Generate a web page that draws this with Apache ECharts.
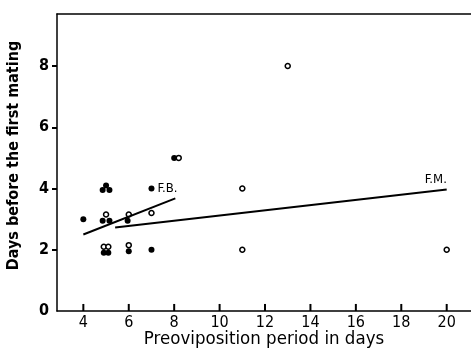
<!DOCTYPE html>
<html><head><meta charset="utf-8">
<script src="https://cdn.jsdelivr.net/npm/echarts@6/dist/echarts.min.js"></script>
<style>html,body{margin:0;padding:0;background:#fff}#c{width:471px;height:356px}</style>
</head><body><div id="c"></div>
<script>
// Filled dots (F.B.)
const fbX = [4, 4.85, 5, 5.15, 4.85, 5.15, 4.9, 5.1, 6, 5.95, 7, 7, 8];
const fbY = [3, 3.95, 4.1, 3.95, 2.95, 2.95, 1.9, 1.9, 1.95, 2.95, 4, 2, 5];
// Open circles (F.M.)
const fmX = [5, 4.9, 5.1, 6, 6, 7, 8.2, 11, 11, 13, 20];
const fmY = [3.15, 2.1, 2.1, 2.15, 3.15, 3.2, 5, 4, 2, 8, 2];
// Regression lines
const fbLineX = [4, 8.05];
const fbLineY = [2.5, 3.68];
const fmLineX = [5.4, 20];
const fmLineY = [2.73, 3.97];
const xTicks = [4, 6, 8, 10, 12, 14, 16, 18, 20];
const yTicks = [2, 4, 6, 8];
const yLabels = [0, 2, 4, 6, 8];

const FONT = '"DejaVu Sans Condensed", "DejaVu Sans", sans-serif';
const zip = (a, b) => a.map((v, i) => [v, b[i]]);

// inward tick marks on the x axis, drawn as short segments through the scales
const tickSeries = xTicks.map(v => ({
  type: 'line', data: [[v, 0], [v, 0.23]], symbol: 'none', silent: true,
  lineStyle: {color: '#000', width: 2}, z: 5
}));

const chart = echarts.init(document.getElementById('c'), null, {renderer: 'canvas'});
chart.setOption({
  animation: false,
  backgroundColor: '#fff',
  grid: {left: 57, top: 14, right: 0, bottom: 45, containLabel: false, outerBoundsMode: 'none'},
  xAxis: [{
    type: 'value', min: 2.84, max: 21.07,
    name: 'Preoviposition period in days', nameLocation: 'middle', nameGap: 19, nameMoveOverlap: false,
    nameTextStyle: {fontFamily: FONT, fontSize: 18.5, color: '#000'},
    axisLine: {show: true, onZero: false, lineStyle: {color: '#000', width: 1.5}},
    axisTick: {show: false},
    axisLabel: {customValues: xTicks, fontFamily: FONT, fontSize: 16, color: '#000', margin: 4},
    splitLine: {show: false}
  }, {
    type: 'value', position: 'top', min: 2.84, max: 21.07,
    axisLine: {show: true, onZero: false, lineStyle: {color: '#000', width: 1.5}},
    axisTick: {show: false}, axisLabel: {show: false}, splitLine: {show: false}
  }],
  yAxis: {
    type: 'value', min: 0, max: 9.7,
    name: 'Days before the first mating', nameLocation: 'middle', nameGap: 35, nameMoveOverlap: false,
    nameTextStyle: {fontFamily: FONT, fontSize: 16, fontWeight: 'bold', color: '#000', padding: [0, 0, 0, 14]},
    axisLine: {show: true, onZero: false, lineStyle: {color: '#000', width: 1.5}},
    axisTick: {show: true, length: 5, customValues: yTicks, lineStyle: {color: '#000', width: 2}},
    axisLabel: {customValues: yLabels, fontFamily: FONT, fontSize: 16, fontWeight: 'bold', color: '#000', margin: 8},
    splitLine: {show: false}
  },
  series: tickSeries.concat([
    {
      type: 'line', data: zip(fbLineX, fbLineY), symbol: 'none',
      lineStyle: {color: '#000', width: 2}
    },
    {
      type: 'line', data: zip(fmLineX, fmLineY), symbol: 'none',
      lineStyle: {color: '#000', width: 2},
      endLabel: {show: true, formatter: 'F.M.', fontFamily: FONT, fontSize: 13, color: '#000', offset: [-30, -10]}
    },
    {
      type: 'scatter', data: zip(fbX, fbY), symbol: 'circle', symbolSize: 6,
      itemStyle: {color: '#000', opacity: 1},
      label: {
        show: true, position: 'right', distance: 3, fontFamily: FONT, fontSize: 13, color: '#000',
        formatter: p => (p.dataIndex === 10 ? 'F.B.' : '')
      }
    },
    {
      type: 'scatter', data: zip(fmX, fmY), symbol: 'circle', symbolSize: 5,
      itemStyle: {color: '#fff', borderColor: '#000', borderWidth: 1.5, opacity: 1}
    }
  ])
});
</script></body></html>
